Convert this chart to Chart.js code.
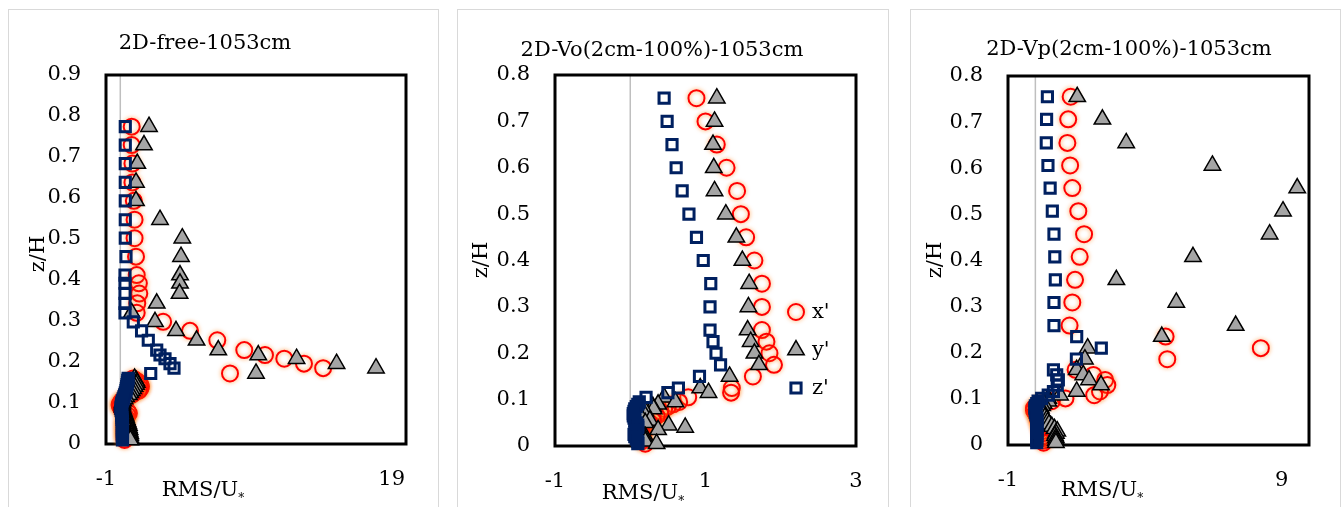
<!DOCTYPE html>
<html>
<head>
<meta charset="utf-8">
<script src="https://cdn.jsdelivr.net/npm/chart.js"></script>
<style>
  html, body { margin: 0; padding: 0; background: #fff; }
  body { width: 1341px; height: 507px; position: relative; overflow: hidden; }
  .frame { position: absolute; top: 9px; height: 520px; border: 1px solid #d9d9d9; box-sizing: border-box; }
  canvas { position: absolute; top: 9px; }
</style>
</head>
<body>
<div class="frame" style="left:8px;width:431px"></div>
<div class="frame" style="left:457px;width:432px"></div>
<div class="frame" style="left:910px;width:431px"></div>
<canvas id="c1" width="431" height="498" style="left:8px"></canvas>
<canvas id="c2" width="432" height="498" style="left:457px"></canvas>
<canvas id="c3" width="431" height="498" style="left:910px"></canvas>
<script>
// series names
const SERIES = ["x'", "y'", "z'"];

// panel 1: 2D-free-1053cm
const P1_TITLE = '2D-free-1053cm';
const P1_XTICKS = [-1, 19];
const P1_YTICKS = [0, 0.1, 0.2, 0.3, 0.4, 0.5, 0.6, 0.7, 0.8, 0.9];
const P1_ZH = [0.774, 0.729, 0.684, 0.638, 0.593, 0.547, 0.502, 0.457, 0.412, 0.392, 0.367, 0.343, 0.320,
  0.298, 0.276, 0.253, 0.229, 0.217, 0.208, 0.196, 0.185, 0.172,
  0.16, 0.155, 0.15, 0.145, 0.14, 0.135, 0.13, 0.125, 0.12, 0.115, 0.11, 0.105, 0.10, 0.095, 0.09, 0.085,
  0.08, 0.075, 0.07, 0.065, 0.06, 0.055, 0.05, 0.045, 0.04, 0.035, 0.03, 0.025, 0.02, 0.015, 0.01];
const P1_X = [0.8, 0.8, 0.85, 0.85, 0.95, 1.0, 1.0, 1.1, 1.15, 1.3, 1.33, 1.19, 1.15,
  3.0, 4.88, 6.79, 8.68, 10.13, 11.48, 12.86, 14.2, 7.68,
  0.9, 1.1, 1.3, 1.4, 1.45, 1.4, 1.3, 1.0, 0.8, 0.5, 0.3, 0.1, 0.0, -0.05, 0.0, 0.1,
  0.5, 0.6, 0.5, 0.4, 0.3, 0.3, 0.3, 0.3, 0.3, 0.3, 0.3, 0.3, 0.3, 0.3, 0.3];
const P1_Y = [2.01, 1.66, 1.19, 1.1, 1.1, 2.78, 4.34, 4.25, 4.18, 4.18, 4.15, 2.55, 0.8,
  2.43, 3.9, 5.34, 6.86, 9.66, 12.34, 15.14, 17.9, 9.5,
  1.0, 1.1, 1.15, 1.1, 1.0, 0.9, 0.8, 0.7, 0.6, 0.4, 0.3, 0.2, 0.15, 0.15, 0.15, 0.2,
  0.25, 0.3, 0.35, 0.4, 0.45, 0.5, 0.55, 0.6, 0.6, 0.65, 0.65, 0.7, 0.7, 0.7, 0.7];
const P1_Z = [0.35, 0.35, 0.35, 0.35, 0.35, 0.35, 0.35, 0.40, 0.33, 0.33, 0.33, 0.33, 0.33,
  0.91, 1.49, 1.96, 2.55, 2.78, 3.13, 3.48, 3.76, 2.13,
  0.55, 0.52, 0.5, 0.47, 0.45, 0.42, 0.4, 0.35, 0.3, 0.25, 0.2, 0.15, 0.1, 0.08, 0.05, 0.05,
  0.08, 0.1, 0.1, 0.12, 0.12, 0.15, 0.15, 0.15, 0.15, 0.15, 0.15, 0.15, 0.15, 0.15, 0.15];

// panel 2: 2D-Vo(2cm-100%)-1053cm
const P2_TITLE = '2D-Vo(2cm-100%)-1053cm';
const P2_XTICKS = [-1, 1, 3];
const P2_YTICKS = [0, 0.1, 0.2, 0.3, 0.4, 0.5, 0.6, 0.7, 0.8];
const P2_ZH = [0.75, 0.70, 0.65, 0.60, 0.55, 0.50, 0.45, 0.40, 0.35, 0.30, 0.25, 0.225, 0.20, 0.175,
  0.15, 0.125, 0.115, 0.105, 0.095, 0.09, 0.085, 0.08, 0.075, 0.07, 0.065, 0.06, 0.055, 0.05,
  0.045, 0.04, 0.035, 0.03, 0.025, 0.02, 0.015, 0.01, 0.005];
const P2_X = [0.88, 1.0, 1.15, 1.28, 1.42, 1.47, 1.54, 1.65, 1.75, 1.75, 1.75, 1.81, 1.85, 1.91,
  1.63, 1.35, 1.34, 0.77, 0.65, 0.57, 0.5, 0.45, 0.4, 0.40, 0.35, 0.3, 0.3, 0.25,
  0.2, 0.2, 0.2, 0.15, 0.15, 0.15, 0.15, 0.15, 0.2];
const P2_Y = [1.15, 1.12, 1.10, 1.11, 1.12, 1.27, 1.41, 1.49, 1.58, 1.57, 1.56, 1.60, 1.65, 1.71,
  1.32, 0.93, 1.04, 0.45, 0.60, 0.37, 0.30, 0.31, 0.2, 0.15, 0.2, 0.15, 0.26, 0.2,
  0.51, 0.73, 0.37, 0.15, 0.15, 0.2, 0.2, 0.2, 0.35];
const P2_Z = [0.45, 0.49, 0.555, 0.61, 0.69, 0.78, 0.88, 0.97, 1.07, 1.06, 1.06, 1.10, 1.14, 1.20,
  0.92, 0.64, 0.50, 0.21, 0.12, 0.1, 0.08, 0.06, 0.05, 0.04, 0.04, 0.05, 0.06, 0.08,
  0.1, 0.1, 0.08, 0.06, 0.05, 0.06, 0.08, 0.1, 0.1];

// panel 3: 2D-Vp(2cm-100%)-1053cm
const P3_TITLE = '2D-Vp(2cm-100%)-1053cm';
const P3_XTICKS = [-1, 9];
const P3_YTICKS = [0, 0.1, 0.2, 0.3, 0.4, 0.5, 0.6, 0.7, 0.8];
const P3_ZH = [0.755, 0.706, 0.655, 0.606, 0.557, 0.507, 0.457, 0.408, 0.358, 0.309, 0.259,
  0.235, 0.210, 0.186, 0.163, 0.152, 0.141, 0.130, 0.116, 0.108, 0.101,
  0.095, 0.09, 0.085, 0.08, 0.075, 0.07, 0.065, 0.06, 0.055, 0.05, 0.045, 0.04, 0.035, 0.03,
  0.025, 0.02, 0.015, 0.01, 0.005];
const P3_X = [1.29, 1.20, 1.17, 1.27, 1.35, 1.57, 1.78, 1.62, 1.45, 1.35, 1.25,
  4.76, 8.24, 4.82, 1.47, 2.12, 2.55, 2.63, 2.36, 2.15, 1.1,
  0.6, 0.2, 0.05, -0.05, -0.05, 0.0, 0.05, 0.1, 0.1, 0.15, 0.15, 0.2, 0.2, 0.25,
  0.25, 0.3, 0.3, 0.3, 0.3];
const P3_Y = [1.53, 2.45, 3.32, 6.47, 9.57, 9.05, 8.56, 5.76, 2.96, 5.15, 7.32,
  4.62, 1.91, 1.81, 1.51, 1.75, 1.96, 2.40, 1.51, 0.9, 0.47,
  0.47, 0.3, 0.25, 0.2, 0.2, 0.25, 0.3, 0.35, 0.41, 0.45, 0.5, 0.6, 0.7, 0.8,
  0.75, 0.72, 0.75, 0.75, 0.75];
const P3_Z = [0.44, 0.41, 0.40, 0.46, 0.54, 0.62, 0.68, 0.71, 0.73, 0.68, 0.68,
  1.51, 2.41, 1.50, 0.66, 0.78, 0.84, 0.80, 0.66, 0.47, 0.23,
  0.1, 0.05, 0.0, -0.02, 0.0, 0.0, 0.02, 0.05, 0.05, 0.05, 0.05, 0.05, 0.05, 0.05,
  0.05, 0.05, 0.05, 0.05, 0.05];

const FONT = '"DejaVu Serif", "Liberation Serif", serif';
const FONT_SIZE = 21;

const toPoints = (xs, zs) => xs.map((v, i) => ({ x: v, y: zs[i] }));

const styles = [
  { pointStyle: 'circle', pointRadius: 8, pointBorderWidth: 2, pointBorderColor: '#ff0000', pointBackgroundColor: 'rgba(0,0,0,0)', order: 2, glow: true },
  { pointStyle: 'triangle', pointRadius: 9.5, pointBorderWidth: 1.5, pointBorderColor: '#000000', pointBackgroundColor: '#a5a5a5', order: 1 },
  { pointStyle: 'rect', pointRadius: 7.2, pointBorderWidth: 3, pointBorderColor: '#002060', pointBackgroundColor: 'rgba(0,0,0,0)', order: 0 }
];

// draws frame, zero line, titles and (optionally) legend
const decor = {
  id: 'decor',
  beforeDatasetsDraw(chart) {
    const { ctx, chartArea: a, scales } = chart;
    const x0 = scales.x.getPixelForValue(0);
    ctx.save();
    ctx.strokeStyle = '#bfbfbf';
    ctx.lineWidth = 1.5;
    ctx.beginPath();
    ctx.moveTo(x0, a.top);
    ctx.lineTo(x0, a.bottom);
    ctx.stroke();
    ctx.strokeStyle = '#000';
    ctx.lineWidth = 3;
    ctx.strokeRect(a.left, a.top, a.right - a.left, a.bottom - a.top);
    ctx.restore();
  },
  beforeDatasetDraw(chart, args) {
    const ds = chart.data.datasets[args.index];
    chart.ctx.save();
    if (ds.glow) {
      chart.ctx.shadowColor = 'rgba(255,120,0,0.75)';
      chart.ctx.shadowBlur = 4;
    }
  },
  afterDatasetDraw(chart) {
    chart.ctx.restore();
  },
  afterDraw(chart, args, opts) {
    const { ctx } = chart;
    ctx.save();
    ctx.fillStyle = '#000';
    ctx.font = FONT_SIZE + 'px ' + FONT;
    ctx.textAlign = 'center';
    ctx.textBaseline = 'alphabetic';
    ctx.fillText(opts.title, opts.titleX, opts.titleY);

    // axis title RMS/U* with small lowered asterisk
    ctx.textAlign = 'left';
    const w1 = ctx.measureText('RMS/U').width;
    ctx.font = '12px ' + FONT;
    const w2 = ctx.measureText('*').width;
    const sx = opts.xtX - (w1 + w2) / 2;
    ctx.font = FONT_SIZE + 'px ' + FONT;
    ctx.fillText('RMS/U', sx, opts.xtY);
    ctx.font = '12px ' + FONT;
    ctx.fillText('*', sx + w1, opts.xtY + 6);

    // z/H rotated
    ctx.font = FONT_SIZE + 'px ' + FONT;
    ctx.translate(opts.ytX, opts.ytY);
    ctx.rotate(-Math.PI / 2);
    ctx.textAlign = 'center';
    ctx.textBaseline = 'middle';
    ctx.fillText('z/H', 0, 0);
    ctx.restore();

    if (opts.legend) {
      const L = opts.legend;
      ctx.save();
      chart.data.datasets.forEach((ds, i) => {
        const y = L.y + i * L.gap;
        ctx.save();
        if (ds.glow) { ctx.shadowColor = 'rgba(255,120,0,0.75)'; ctx.shadowBlur = 4; }
        ctx.strokeStyle = ds.pointBorderColor;
        ctx.fillStyle = ds.pointBackgroundColor;
        ctx.lineWidth = ds.pointBorderWidth;
        Chart.helpers.drawPoint(ctx, { pointStyle: ds.pointStyle, radius: ds.pointRadius, rotation: 0, borderWidth: ds.pointBorderWidth }, L.x, y);
        ctx.restore();
        ctx.fillStyle = '#000';
        ctx.font = FONT_SIZE + 'px ' + FONT;
        ctx.textAlign = 'left';
        ctx.textBaseline = 'middle';
        ctx.fillText(ds.label, L.x + 16, y + 1);
      });
      ctx.restore();
    }
  }
};

function makePanel(id, cfg) {
  const datasets = [cfg.xs, cfg.ys, cfg.zs].map((vals, i) => Object.assign({
    label: SERIES[i],
    data: toPoints(vals, cfg.zh),
    showLine: false,
    clip: false
  }, styles[i]));

  new Chart(document.getElementById(id), {
    type: 'scatter',
    data: { datasets },
    options: {
      responsive: false,
      animation: false,
      events: [],
      layout: { padding: { left: 0, right: cfg.padRight, top: cfg.padTop, bottom: 0 } },
      plugins: {
        legend: { display: false },
        tooltip: { enabled: false },
        decor: cfg.decor
      },
      scales: {
        x: {
          type: 'linear',
          min: cfg.xMin,
          max: cfg.xMax,
          afterBuildTicks: s => { s.ticks = cfg.xTicks.map(v => ({ value: v })); },
          afterFit: s => { s.height = cfg.xAxisH; },
          grid: { display: false },
          border: { display: false },
          ticks: { padding: 15, color: '#000', maxRotation: 0, autoSkip: false, font: { family: FONT, size: FONT_SIZE }, callback: v => String(v) }
        },
        y: {
          type: 'linear',
          min: 0,
          max: cfg.yMax,
          afterBuildTicks: s => { s.ticks = cfg.yTicks.map(v => ({ value: v })); },
          afterFit: s => { s.width = 98; },
          grid: { display: false },
          border: { display: false },
          ticks: { padding: 17, color: '#000', autoSkip: false, font: { family: FONT, size: FONT_SIZE }, callback: v => String(v) }
        }
      }
    },
    plugins: [decor]
  });
}

makePanel('c1', {
  zh: P1_ZH, xs: P1_X, ys: P1_Y, zs: P1_Z,
  xMin: -1, xMax: 20, xTicks: P1_XTICKS, yMax: 0.9, yTicks: P1_YTICKS,
  padTop: 66, padRight: 33, xAxisH: 63,
  decor: { title: P1_TITLE, titleX: 197, titleY: 40, xtX: 195, xtY: 487, ytX: 31, ytY: 245 }
});

makePanel('c2', {
  zh: P2_ZH, xs: P2_X, ys: P2_Y, zs: P2_Z,
  xMin: -1, xMax: 3, xTicks: P2_XTICKS, yMax: 0.8, yTicks: P2_YTICKS,
  padTop: 66, padRight: 33, xAxisH: 61,
  decor: { title: P2_TITLE, titleX: 205, titleY: 47, xtX: 186, xtY: 490, ytX: 25, ytY: 251,
    legend: { x: 339, y: 303, gap: 38 } }
});

makePanel('c3', {
  zh: P3_ZH, xs: P3_X, ys: P3_Y, zs: P3_Z,
  xMin: -1, xMax: 10, xTicks: P3_XTICKS, yMax: 0.8, yTicks: P3_YTICKS,
  padTop: 67, padRight: 32, xAxisH: 62,
  decor: { title: P3_TITLE, titleX: 219, titleY: 46, xtX: 192, xtY: 487, ytX: 26, ytY: 251 }
});
</script>
</body>
</html>
